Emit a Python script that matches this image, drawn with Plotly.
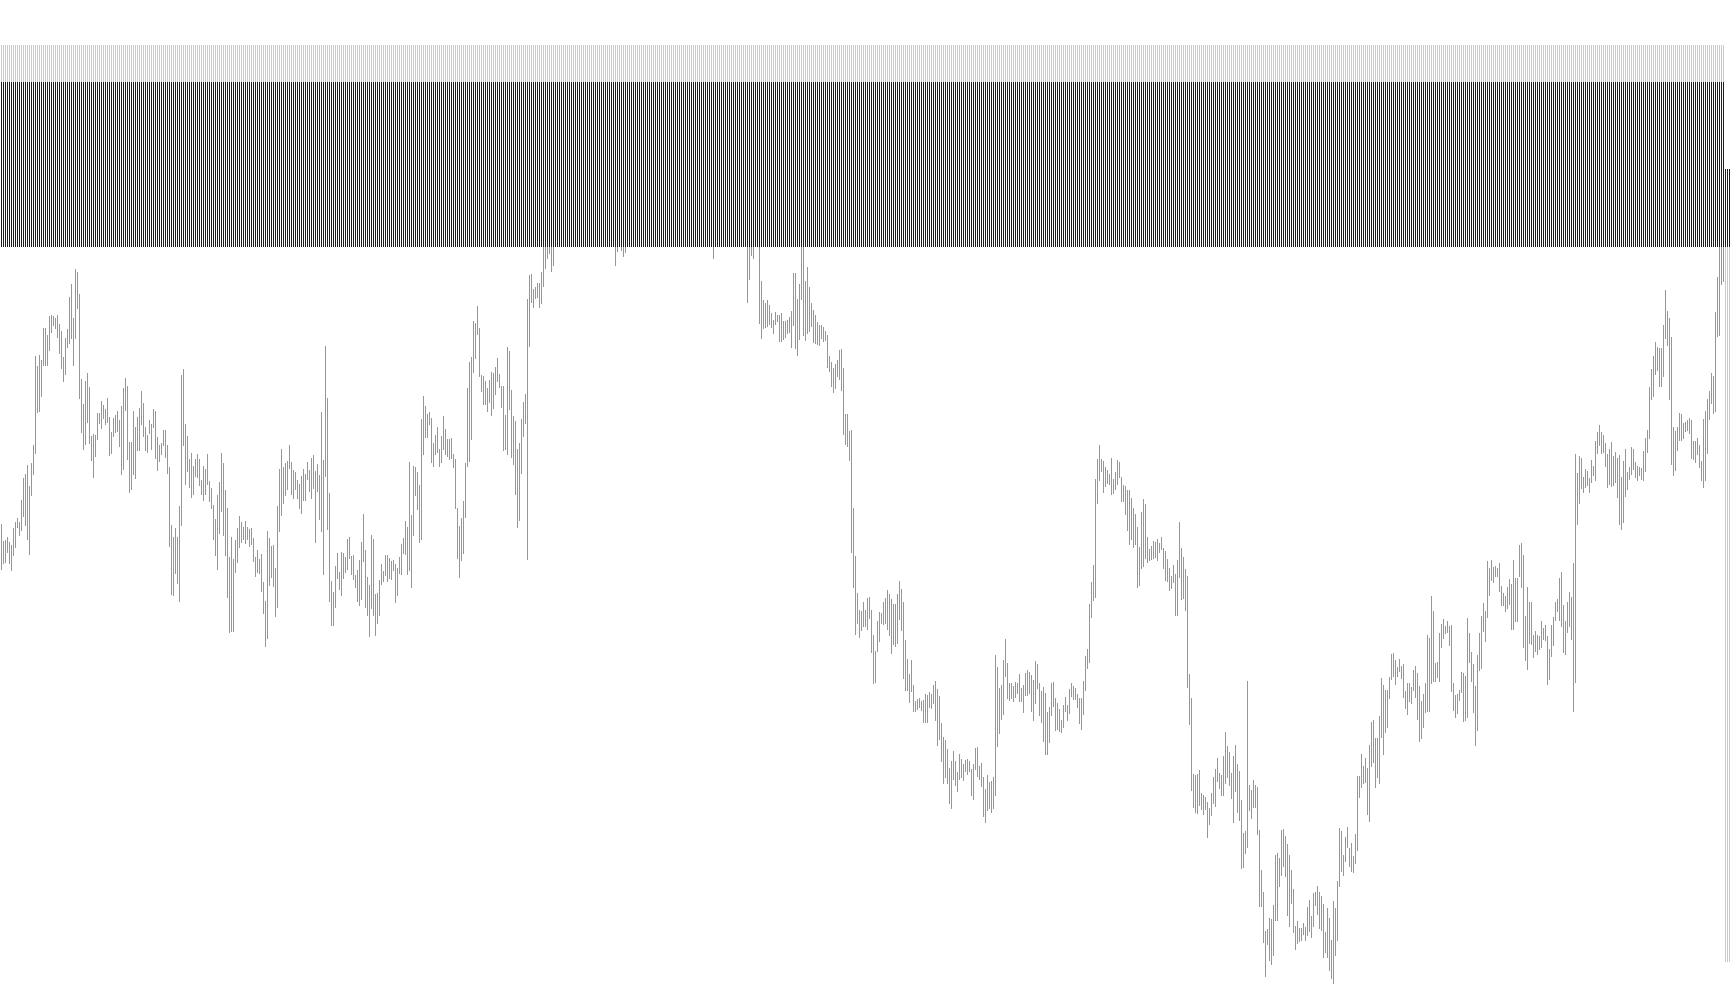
import plotly.graph_objects as go

# Unlabelled vertical scale; larger value = lower on the chart. Each pair is (upper, lower).
range_a = [(524,570),(541,564),(540,563),(537,553),(542,564),(545,571),(528,556),(522,548),(518,528),(522,536),
(500,531),(478,517),(474,526),(465,540),(486,555),(463,496),(445,475),(356,454),(366,413),(355,412),
(360,397),(328,366),(328,366),(335,366),(316,351),(315,333),(316,326),(318,329),(315,338),(324,354),
(331,369),(357,382),(338,375),(329,348),(297,344),(284,339),(318,366),(269,339),(272,309),(294,399),
(379,433),(404,450),(381,445),(373,423),(387,444),(436,461),(434,478),(435,457),(413,440),(413,424),
(401,429),(405,419),(409,425),(398,423),(417,456),(432,454),(418,437),(415,433),(411,432),(420,447),
(406,475),(388,470),(378,411),(386,460),(442,493),(442,490),(411,475),(427,479),(417,451),(408,451),
(391,425),(403,437),(427,451),(435,453),(420,434),(424,450),(409,428),(411,459),(437,471),(445,462),
(443,455),(430,446),(430,458),(445,474),(467,547),(525,595),(537,596),(528,574),(537,584),(506,602),
(375,526),(369,446),(424,485),(436,472),(459,488),(453,498),(466,495),(459,477),(454,478),(459,486),
(480,495),(466,501),(469,495),(454,485),(481,502),(488,509),(505,540),(519,556),(495,570),(482,534),
(453,512),(463,536),(490,556),(508,598),(557,633),(537,632),(559,632),(540,573),(528,563),(516,548),
(522,543),(527,540),(521,544),(527,540),(529,547),(528,545),(538,562),(557,577),(550,573),(559,574),
(554,592),(582,614),(601,647),(531,639),(538,586),(546,578),(545,587),(568,617),(506,608),(469,532),
(449,516),(467,504),(463,496),(461,490),(445,469),(462,495),(470,499),(472,490),(480,499),(484,509)]

range_b = [(476,514),(469,501),(474,501),(462,480),(470,492),(458,499),(455,489),(471,543),(464,492),(475,520),
(412,532),(460,575),(346,477),(398,530),(493,602),(581,626),(592,626),(566,608),(553,579),(572,590),
(552,596),(553,579),(557,573),(539,570),(537,559),(556,575),(555,580),(575,588),(570,602),(560,606),
(542,600),(514,562),(550,608),(577,616),(585,637),(535,609),(539,616),(594,636),(593,624),(580,616),
(564,585),(571,582),(555,576),(555,582),(558,579),(561,580),(560,571),(564,603),(568,596),(557,574),
(544,575),(538,554),(521,555),(527,575),(462,571),(515,588),(466,536),(467,496),(472,510),(485,543),
(419,540),(396,455),(406,438),(414,438),(412,425),(418,463),(443,467),(435,455),(427,453),(449,467),
(436,463),(416,450),(429,455),(439,457),(439,460),(438,459),(454,468),(459,509),(508,559),(526,578),
(518,561),(501,554),(463,518),(388,467),(362,462),(357,440),(321,373),(323,359),(306,335),(328,377),
(375,392),(376,405),(381,405),(388,412),(380,403),(372,416),(373,409),(367,395),(358,382),(374,388),
(386,408),(386,451),(415,450),(347,455),(351,410),(390,458),(416,465),(421,495),(449,528),(443,521),
(419,474),(402,437),(394,424),(299,560),(275,347),(274,303),(289,308),(287,299),(283,298),(283,308),
(272,304),(247,287),(247,269),(247,259),(247,254),(247,272),(247,266)]

hidden = (None, None)  # bar sits entirely behind the blue band
range_c = [hidden]*8

range_d = [hidden]*22 + [(247,266),(247,252),hidden,(247,251),(247,257),(247,253)] + [hidden]*43 + [(247,259)] + [hidden]*16 + [
(247,303),(247,280),(247,256),(247,259),hidden,hidden,(247,324),(281,339),(300,329),(303,328),
(300,327),(305,325),(313,328),(320,334),(312,325),(315,322),(315,342),(313,342),(321,340),(321,338),
(320,334),(317,333),(311,348),(273,326),(273,349),(299,356),(284,340),(247,300),(247,336),(281,341),
(267,334),(287,332),(303,327),(310,343),(315,344),(322,345),(325,346),(325,339),(327,342),(331,341),
(335,368),(356,372),(362,387),(368,393),(364,389),(360,377),(350,380),(349,391),(368,435),(414,445),
(414,447),(431,461),(430,553),(508,588),(556,635),(593,624),(610,638),(611,631),(602,627),(610,627),
(598,630),(597,619)]

range_e = [(610,653),(635,684),(651,683),(621,652),(612,642),(613,624),(602,625),(598,624),(590,630),(594,636),
(599,654),(604,645),(604,647),(594,644),(581,620),(589,631),(602,679),(640,691),(659,691),(674,703),
(660,692),(685,712),(701,712),(699,710),(698,708),(701,711),(700,723),(694,723),(695,723),(692,708),
(694,709),(685,704),(681,721),(689,746),(696,740),(723,762),(737,784),(740,778),(749,784),(768,804),
(761,809),(751,780),(761,786),(772,792),(754,780),(759,778),(764,781),(760,772),(759,775),(761,772),
(769,796),(764,800),(748,770),(747,777),(766,780),(763,787),(777,817),(789,823),(775,811),(782,809),
(781,813),(777,809),(655,796),(667,747),(688,734),(685,720),(660,715),(639,677),(663,699),(683,701),
(683,699),(686,702),(682,698),(683,694),(674,702),(688,702),(685,713),(673,696),(670,696),(672,694),
(675,712),(680,721),(661,704),(664,689),(683,716),(691,723),(687,742),(693,755),(712,755),(707,743),
(683,716),(682,707),(698,731),(703,730),(709,732),(720,733),(705,728),(697,712),(705,721),(689,714),
(683,697),(686,700),(688,700),(694,708),(698,724),(698,730),(681,715),(656,691),(649,669),(604,663),
(582,618),(565,601),(479,598),(459,504),(445,481),(459,472),(461,493),(467,487),(470,484),(474,485),
(458,495),(479,494),(472,490),(460,485),(462,478),(477,502),(485,502),(486,515),(490,531),(490,545)]

range_f = [(498,540),(508,548),(514,545),(527,588),(547,586),(512,569),(499,567),(504,559),(537,563),(549,561),
(546,560),(541,559),(542,558),(539,561),(543,553),(537,550),(548,569),(551,581),(559,582),(568,591),
(576,589),(565,583),(574,616),(560,616),(522,578),(548,600),(557,599),(569,611),(576,688),(674,725),
(698,791),(774,808),(775,813),(774,814),(770,806),(793,810),(795,815),(797,810),(802,838),(808,825),
(793,816),(777,804),(769,807),(758,782),(773,789),(775,796),(756,796),(732,784),(746,778),(752,786),
(773,799),(756,823),(745,792),(764,813),(771,821),(800,869),(833,868),(831,854),(681,848),(785,811),
(790,819),(780,808),(785,808),(787,835),(830,907),(870,907),(892,943),(931,977),(929,945),(918,961),
(919,965),(905,956),(855,921),(853,921),(858,887),(830,876),(829,867),(836,877),(844,916),(855,927),
(870,904),(889,933),(926,950),(921,944),(928,942)]

range_g = [(928,941),(923,935),(927,941),(907,936),(900,932),(916,938),(893,927),(892,906),(886,915),(892,929),
(896,931),(904,958),(932,953),(908,958),(918,971),(940,979),(901,984),(908,956),(881,941),(828,887),
(831,872),(855,876),(837,862),(827,848),(848,867),(843,872),(856,873),(834,864),(776,851),(776,798),
(754,788),(766,784),(758,783),(768,815),(745,822),(722,767),(720,763),(738,788),(738,778),(716,784),
(678,738),(685,755),(690,733),(690,728),(677,699),(654,680),(653,677),(660,685),(667,677),(659,672),
(666,679),(664,698),(691,709),(683,715),(683,702),(687,704),(670,691),(666,698),(673,720),(686,742),
(701,739),(694,728),(683,713),(635,712),(638,712),(596,684),(611,682),(663,682),(662,678),(633,682),
(624,648),(619,639),(626,634),(621,633),(626,646),(625,692),(683,711),(695,718),(694,714),(690,701),
(672,693),(673,722),(676,721),(618,718),(633,663),(652,682),(664,713),(686,746),(655,731),(633,671),
(616,669),(603,632),(611,642),(561,618),(568,596),(560,581),(567,583),(566,577),(568,577),(563,592),
(586,606),(593,606),(596,612),(587,609),(579,605),(584,630),(560,630),(578,622),(578,622),(545,577),
(543,588),(555,648),(616,661),(587,670),(602,644),(602,645),(635,658),(631,652),(635,655),(636,650),
(621,648),(628,640),(625,641),(636,685),(649,680)]

range_h = [(625,657),(617,646),(602,621),(599,612),(578,621),(572,627),(605,653),(621,655),(602,633),(592,627),
(597,640),(563,712),(454,683),(473,525),(456,504),(458,489),(477,493),(469,488),(471,486),(478,493),
(460,483),(466,476),(441,481),(432,454),(425,446),(432,454),(435,453),(443,467),(454,488),(449,485),
(442,487),(456,486),(452,483),(458,498),(455,525),(477,530),(461,523),(449,497),(472,490),(467,480),
(447,475),(449,470),(462,478),(466,481),(467,476),(468,480),(451,481),(438,472),(430,453),(387,439),
(369,400),(356,397),(342,375),(347,371),(348,387),(348,387),(325,377),(290,339),(311,346),(318,400),
(337,465),(427,476),(431,471),(427,451),(413,441),(414,441),(423,439),(422,432),(420,431),(418,434),
(420,459),(441,460),(441,463),(438,455),(445,468),(461,481),(419,488),(411,481),(399,454),(391,420),
(373,404),(376,414),(312,412),(277,337),(247,336),(247,285),(247,282)]

tail_count = 3
green_pairs = range_a + range_b + range_c + range_d + range_e + range_f + range_g + range_h + [hidden]*tail_count
bar_total = len(green_pairs)

band_yellow_top = 45
band_mid = 82
band_blue_bottom = 247
tail_blue_top = 169
tail_yellow_bottom = 962

x = list(range(bar_total))
main_n = bar_total - tail_count
green_base = [p[0] for p in green_pairs]
green_len = [None if p[0] is None else p[1]-p[0] for p in green_pairs]
blue_base = [band_mid]*main_n + [tail_blue_top]*tail_count
blue_len = [band_blue_bottom-b for b in blue_base]
yellow_base = [band_yellow_top]*main_n + [band_blue_bottom]*tail_count
yellow_len = [band_mid-band_yellow_top]*main_n + [tail_yellow_bottom-band_blue_bottom]*tail_count

def bars(base, length, color):
    return go.Bar(x=x, y=length, base=base, width=0.5, marker=dict(color=color, line=dict(width=0)),
                  hoverinfo="skip", showlegend=False)

# The alpha just under 1 makes Plotly snap each bar to whole pixels.
fig = go.Figure([bars(green_base, green_len, "rgba(0,255,0,0.999)"),
                 bars(yellow_base, yellow_len, "rgba(255,215,0,0.999)"),
                 bars(blue_base, blue_len, "rgba(0,0,255,0.999)")])
fig.update_layout(width=1730, height=1005, margin=dict(l=0, r=0, t=0, b=0), barmode="overlay",
                  paper_bgcolor="white", plot_bgcolor="white", showlegend=False,
                  xaxis=dict(visible=False, range=[-0.75, bar_total-0.75]),
                  yaxis=dict(visible=False, range=[1005, 0]))
fig.write_html("out.html", config=dict(displayModeBar=False),
               post_script="document.body.style.margin='0';document.documentElement.style.overflow='hidden';")
